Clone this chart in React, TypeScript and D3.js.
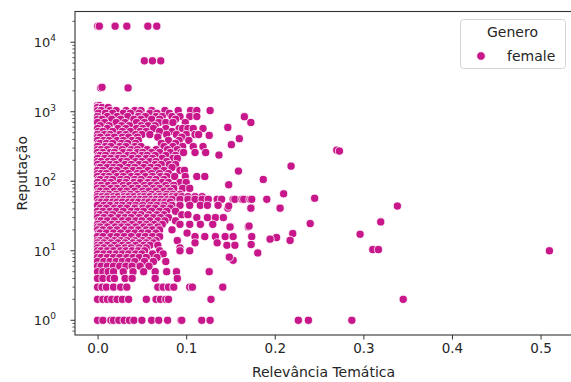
import React, { useEffect, useRef } from 'react'
import { select, scaleLinear, scaleLog, axisBottom } from 'd3'

const WIDTH = 571
const HEIGHT = 382
const FONT = 'DejaVu Sans, sans-serif'
const DOT = '#c8168b'

const legendTitle = 'Genero'
const seriesName = 'female'
const xLabel = 'Relevância Temática'
const yLabel = 'Reputação'
const xTicks = [0, 0.1, 0.2, 0.3, 0.4, 0.5]
const yExponents = [0, 1, 2, 3, 4]

// dense block next to zero: [reputação, relevância values in thousandths]
const clusterRows: [number, number[]][] = [
  [1228, [0, 2]],
  [1150, [0, 5, 12]],
  [1040, [0, 4, 14, 21, 32, 42, 49, 61, 76, 91, 105, 112, 127]],
  [950, [1, 9, 17, 29, 37, 47, 59, 67, 81]],
  [853, [0, 11, 22, 34, 46, 54, 66, 73, 84, 93, 104, 112]],
  [780, [0, 5, 16, 26, 41, 49, 61, 70, 88]],
  [700, [0, 8, 21, 31, 44, 53, 69, 77, 85, 99]],
  [630, [3, 13, 27, 36, 49, 57, 65]],
  [574, [0, 11, 23, 32, 44, 51, 63, 77, 92, 96, 102, 108, 119]],
  [520, [1, 6, 17, 28, 37, 48, 55, 70, 84]],
  [470, [0, 8, 14, 25, 32, 43, 50, 59, 78, 89, 100, 110, 114]],
  [430, [0, 3, 12, 19, 28, 35, 45, 68, 95]],
  [386, [0, 7, 13, 22, 29, 39, 46, 80, 92, 103]],
  [350, [1, 3, 10, 17, 27, 34, 43, 72, 88]],
  [316, [0, 9, 15, 25, 32, 42, 49, 75, 85, 96, 108, 119]],
  [285, [0, 4, 11, 21, 28, 38, 45, 56, 66, 79, 90]],
  [259, [0, 6, 14, 19, 29, 36, 45, 51, 61, 70, 82, 94, 97, 110, 122]],
  [235, [1, 3, 9, 18, 24, 34, 40, 50, 56, 65, 77, 88]],
  [213, [0, 8, 15, 23, 29, 39, 46, 55, 62, 73, 85, 90]],
  [192, [0, 4, 12, 18, 27, 33, 43, 50, 59, 66, 78]],
  [174, [0, 7, 14, 21, 31, 38, 47, 54, 65, 72, 81, 88]],
  [158, [1, 3, 11, 18, 25, 35, 42, 52, 60, 68, 84]],
  [143, [0, 6, 16, 22, 32, 40, 47, 57, 66, 75, 93, 98]],
  [129, [0, 4, 10, 19, 28, 35, 45, 51, 61, 70, 80]],
  [117, [0, 7, 13, 22, 29, 38, 45, 54, 62, 71, 78, 87, 99, 112, 121]],
  [106, [1, 3, 11, 17, 26, 33, 42, 49, 59, 66, 75]],
  [96, [0, 8, 15, 25, 32, 41, 48, 57, 64, 73, 80, 93, 100]],
  [87, [0, 4, 12, 19, 29, 36, 43, 53, 60, 67, 77, 86]],
  [79, [0, 6, 15, 22, 30, 39, 46, 54, 63, 70, 79, 86, 96, 104]],
  [72, [1, 3, 10, 19, 26, 33, 42, 51, 58, 66, 75, 82]],
  [65, [0, 7, 13, 21, 30, 37, 45, 52, 61, 69, 78, 85, 93]],
  [60, [0, 5, 11, 18, 23, 30, 35, 41, 48, 53, 59, 66, 71, 77, 84, 89, 95, 102, 110, 118]],
  [55, [0, 6, 12, 18, 25, 30, 36, 43, 48, 54, 61, 66, 72, 79, 84, 93, 102, 110, 118, 125, 135, 140, 153, 155, 163, 165, 172, 174, 191]],
  [50, [1, 4, 10, 17, 22, 28, 35, 40, 46, 53, 58, 64, 71, 76, 82]],
  [45, [0, 7, 14, 22, 28, 36, 43, 51, 60, 67, 75, 84, 93, 104, 116, 124, 136]],
  [41, [3, 10, 19, 26, 33, 42, 51, 58, 65, 74, 82, 147, 173, 206]],
  [37, [0, 6, 14, 21, 29, 38, 45, 52, 61, 70, 78, 88]],
  [33, [0, 3, 10, 17, 26, 35, 42, 49, 58, 67, 75, 95, 102]],
  [30, [0, 7, 15, 24, 31, 38, 47, 56, 63, 71, 80, 112, 124, 133, 142]],
  [27, [1, 4, 11, 19, 28, 35, 43, 50, 59, 68, 76, 88]],
  [24, [0, 7, 16, 23, 30, 39, 48, 55, 64, 73, 93, 104, 116, 130]],
  [22, [0, 3, 11, 20, 27, 34, 43, 52, 59, 68, 150, 170]],
  [20, [0, 6, 14, 22, 31, 38, 46, 55, 62, 70, 84]],
  [18, [1, 3, 10, 18, 26, 35, 42, 50, 57, 66, 101]],
  [16, [0, 6, 15, 22, 30, 38, 47, 54, 62, 70, 110, 121, 133, 144, 153, 174]],
  [14, [0, 3, 10, 19, 26, 33, 42, 51, 58, 66, 90]],
  [13, [0, 7, 15, 23, 31, 40, 47, 55, 63, 110, 135]],
  [12, [0, 4, 11, 19, 28, 35, 43, 52, 59, 68, 146, 155]],
  [11, [0, 7, 15, 23, 31, 38, 47, 55, 93]],
  [10, [0, 4, 11, 18, 26, 32, 39, 46, 53, 70, 93, 104]],
  [9, [0, 7, 14, 21, 28, 35, 43, 50, 62, 74]],
  [8, [0, 4, 11, 18, 25, 33, 40, 47, 55, 67]],
  [7, [0, 7, 14, 21, 28, 35, 42, 53, 63, 77]],
  [6, [0, 4, 11, 18, 25, 32, 39, 48, 58]],
  [5, [0, 6, 12, 18, 29, 40, 52, 65, 78, 89]],
  [4, [0, 6, 14, 19, 31, 39, 65, 90]],
  [3, [0, 5, 10, 18, 26, 33, 68, 74, 80, 86, 104, 107]],
  [2, [0, 6, 11, 16, 22, 28, 35, 55, 66, 71, 77, 80]],
  [1, [0, 6, 15, 18, 24, 30, 36, 41, 50, 61, 69, 79, 94]],
]

// scattered points: [relevância, reputação]
const outliers: [number, number][] = [
  [0.0002, 17000], [0.002, 17000], [0.0198, 17000], [0.033, 17000], [0.0567, 17000], [0.0668, 17000],
  [0.0528, 5400], [0.0619, 5400], [0.0713, 5400],
  [0.0035, 2200], [0.005, 2250], [0.0344, 2200],
  [0.1657, 848], [0.173, 700], [0.147, 594], [0.126, 457], [0.16, 410], [0.151, 336],
  [0.137, 238], [0.27, 280], [0.273, 272], [0.2184, 165], [0.159, 140], [0.187, 106],
  [0.148, 89], [0.21, 66], [0.245, 57], [0.173, 41], [0.148, 44], [0.206, 41],
  [0.24, 24.6], [0.171, 22.7], [0.1495, 22], [0.2203, 17.7], [0.2173, 14.1], [0.202, 15.5],
  [0.1947, 14.7], [0.2963, 17.3], [0.1733, 12.3], [0.1808, 9.3], [0.153, 7.3], [0.1487, 8.1],
  [0.126, 5], [0.1413, 3], [0.128, 2], [0.095, 1], [0.1176, 1], [0.127, 1],
  [0.2266, 1], [0.238, 1], [0.287, 1], [0.3384, 44], [0.3196, 26], [0.3106, 10.4],
  [0.317, 10.4], [0.51, 10], [0.345, 2],
]

const points: [number, number][] = clusterRows
  .flatMap(([rep, xs]) => xs.map(x => [x / 1000, rep] as [number, number]))
  .concat(outliers)

const App = () => {
  const svgRef = useRef<SVGSVGElement>(null)

  useEffect(() => {
    const svg = select(svgRef.current)
    svg.selectAll('*').remove()

    const left = 75, top = 11.5, right = 572, bottom = 335

    // matplotlib style 5% margins (log space for y)
    const xs = points.map(p => p[0])
    const lys = points.map(p => Math.log10(p[1]))
    const xMin = Math.min(...xs), xMax = Math.max(...xs)
    const yMin = Math.min(...lys), yMax = Math.max(...lys)
    const xPad = (xMax - xMin) * 0.05, yPad = (yMax - yMin) * 0.05

    const xScale = scaleLinear()
      .domain([xMin - xPad, xMax + xPad])
      .range([left, right])
    const yScale = scaleLog()
      .domain([Math.pow(10, yMin - yPad), Math.pow(10, yMax + yPad)])
      .range([bottom, top])

    svg.append('rect').attr('width', WIDTH).attr('height', HEIGHT).attr('fill', 'white')

    svg.append('clipPath').attr('id', 'plot-clip')
      .append('rect')
      .attr('x', left).attr('y', top)
      .attr('width', right - left).attr('height', bottom - top)

    // dots
    svg.append('g')
      .attr('clip-path', 'url(#plot-clip)')
      .selectAll('circle')
      .data(points)
      .join('circle')
      .attr('cx', d => xScale(d[0]))
      .attr('cy', d => yScale(d[1]))
      .attr('r', 4.1)
      .attr('fill', DOT)
      .attr('stroke', 'white')
      .attr('stroke-width', 0.8)

    // x axis
    const xAxis = axisBottom(xScale)
      .tickValues(xTicks)
      .tickFormat(d => (d as number).toFixed(1))
      .tickSize(4.5)
      .tickPadding(4)
    const gx = svg.append('g')
      .attr('transform', `translate(0,${bottom})`)
      .call(xAxis)
    gx.select('.domain').remove()
    gx.selectAll('line').attr('stroke', '#333').attr('stroke-width', 1)
    gx.selectAll('text')
      .attr('font-family', FONT).attr('font-size', 13.5).attr('fill', '#262626')

    // y axis (log): minor + major ticks drawn by hand for the superscripts
    const [d0, d1] = yScale.domain()
    const minor: number[] = []
    for (let k = -1; k <= 5; k++) {
      for (let m = 2; m <= 9; m++) {
        const v = m * Math.pow(10, k)
        if (v >= d0 && v <= d1) minor.push(v)
      }
    }
    const gy = svg.append('g')
    gy.selectAll('.minor')
      .data(minor)
      .join('line')
      .attr('class', 'minor')
      .attr('x1', left - 2.6).attr('x2', left)
      .attr('y1', d => yScale(d)).attr('y2', d => yScale(d))
      .attr('stroke', '#333').attr('stroke-width', 0.8)

    const major = gy.selectAll('.major')
      .data(yExponents)
      .join('g')
      .attr('class', 'major')
      .attr('transform', d => `translate(0,${yScale(Math.pow(10, d))})`)
    major.append('line')
      .attr('x1', left - 4.5).attr('x2', left)
      .attr('stroke', '#333').attr('stroke-width', 1)
    const label = major.append('text')
      .attr('font-family', FONT)
      .attr('fill', '#262626')
      .attr('text-anchor', 'end')
      .attr('x', 56)
      .attr('y', 5)
    label.append('tspan').attr('font-size', 13).text('10')
    label.append('tspan').attr('font-size', 9).attr('dy', -6).text(d => String(d))

    // spines
    svg.append('rect')
      .attr('x', left).attr('y', top)
      .attr('width', right - left).attr('height', bottom - top)
      .attr('fill', 'none').attr('stroke', '#333').attr('stroke-width', 1.1)

    // axis labels
    svg.append('text')
      .attr('x', (left + right) / 2).attr('y', 377)
      .attr('text-anchor', 'middle')
      .attr('font-family', FONT).attr('font-size', 14).attr('fill', '#262626')
      .text(xLabel)
    svg.append('text')
      .attr('transform', `translate(26.5,${(top + bottom) / 2}) rotate(-90)`)
      .attr('text-anchor', 'middle')
      .attr('font-family', FONT).attr('font-size', 14).attr('fill', '#262626')
      .text(yLabel)

    // legend
    const lg = svg.append('g')
    lg.append('rect')
      .attr('x', 460.5).attr('y', 19.5).attr('width', 105).attr('height', 49).attr('rx', 3)
      .attr('fill', 'white').attr('fill-opacity', 0.8)
      .attr('stroke', '#d5d5d5').attr('stroke-width', 1)
    lg.append('text')
      .attr('x', 512.5).attr('y', 37)
      .attr('text-anchor', 'middle')
      .attr('font-family', FONT).attr('font-size', 14).attr('fill', '#262626')
      .text(legendTitle)
    lg.append('circle')
      .attr('cx', 481).attr('cy', 56).attr('r', 4.3)
      .attr('fill', DOT).attr('stroke', 'white').attr('stroke-width', 0.8)
    lg.append('text')
      .attr('x', 507).attr('y', 61)
      .attr('font-family', FONT).attr('font-size', 14).attr('fill', '#262626')
      .text(seriesName)
  }, [])

  return (
    <svg
      ref={svgRef}
      width={WIDTH}
      height={HEIGHT}
      style={{ position: 'fixed', left: 0, top: 0 }}
    />
  )
}

export default App
